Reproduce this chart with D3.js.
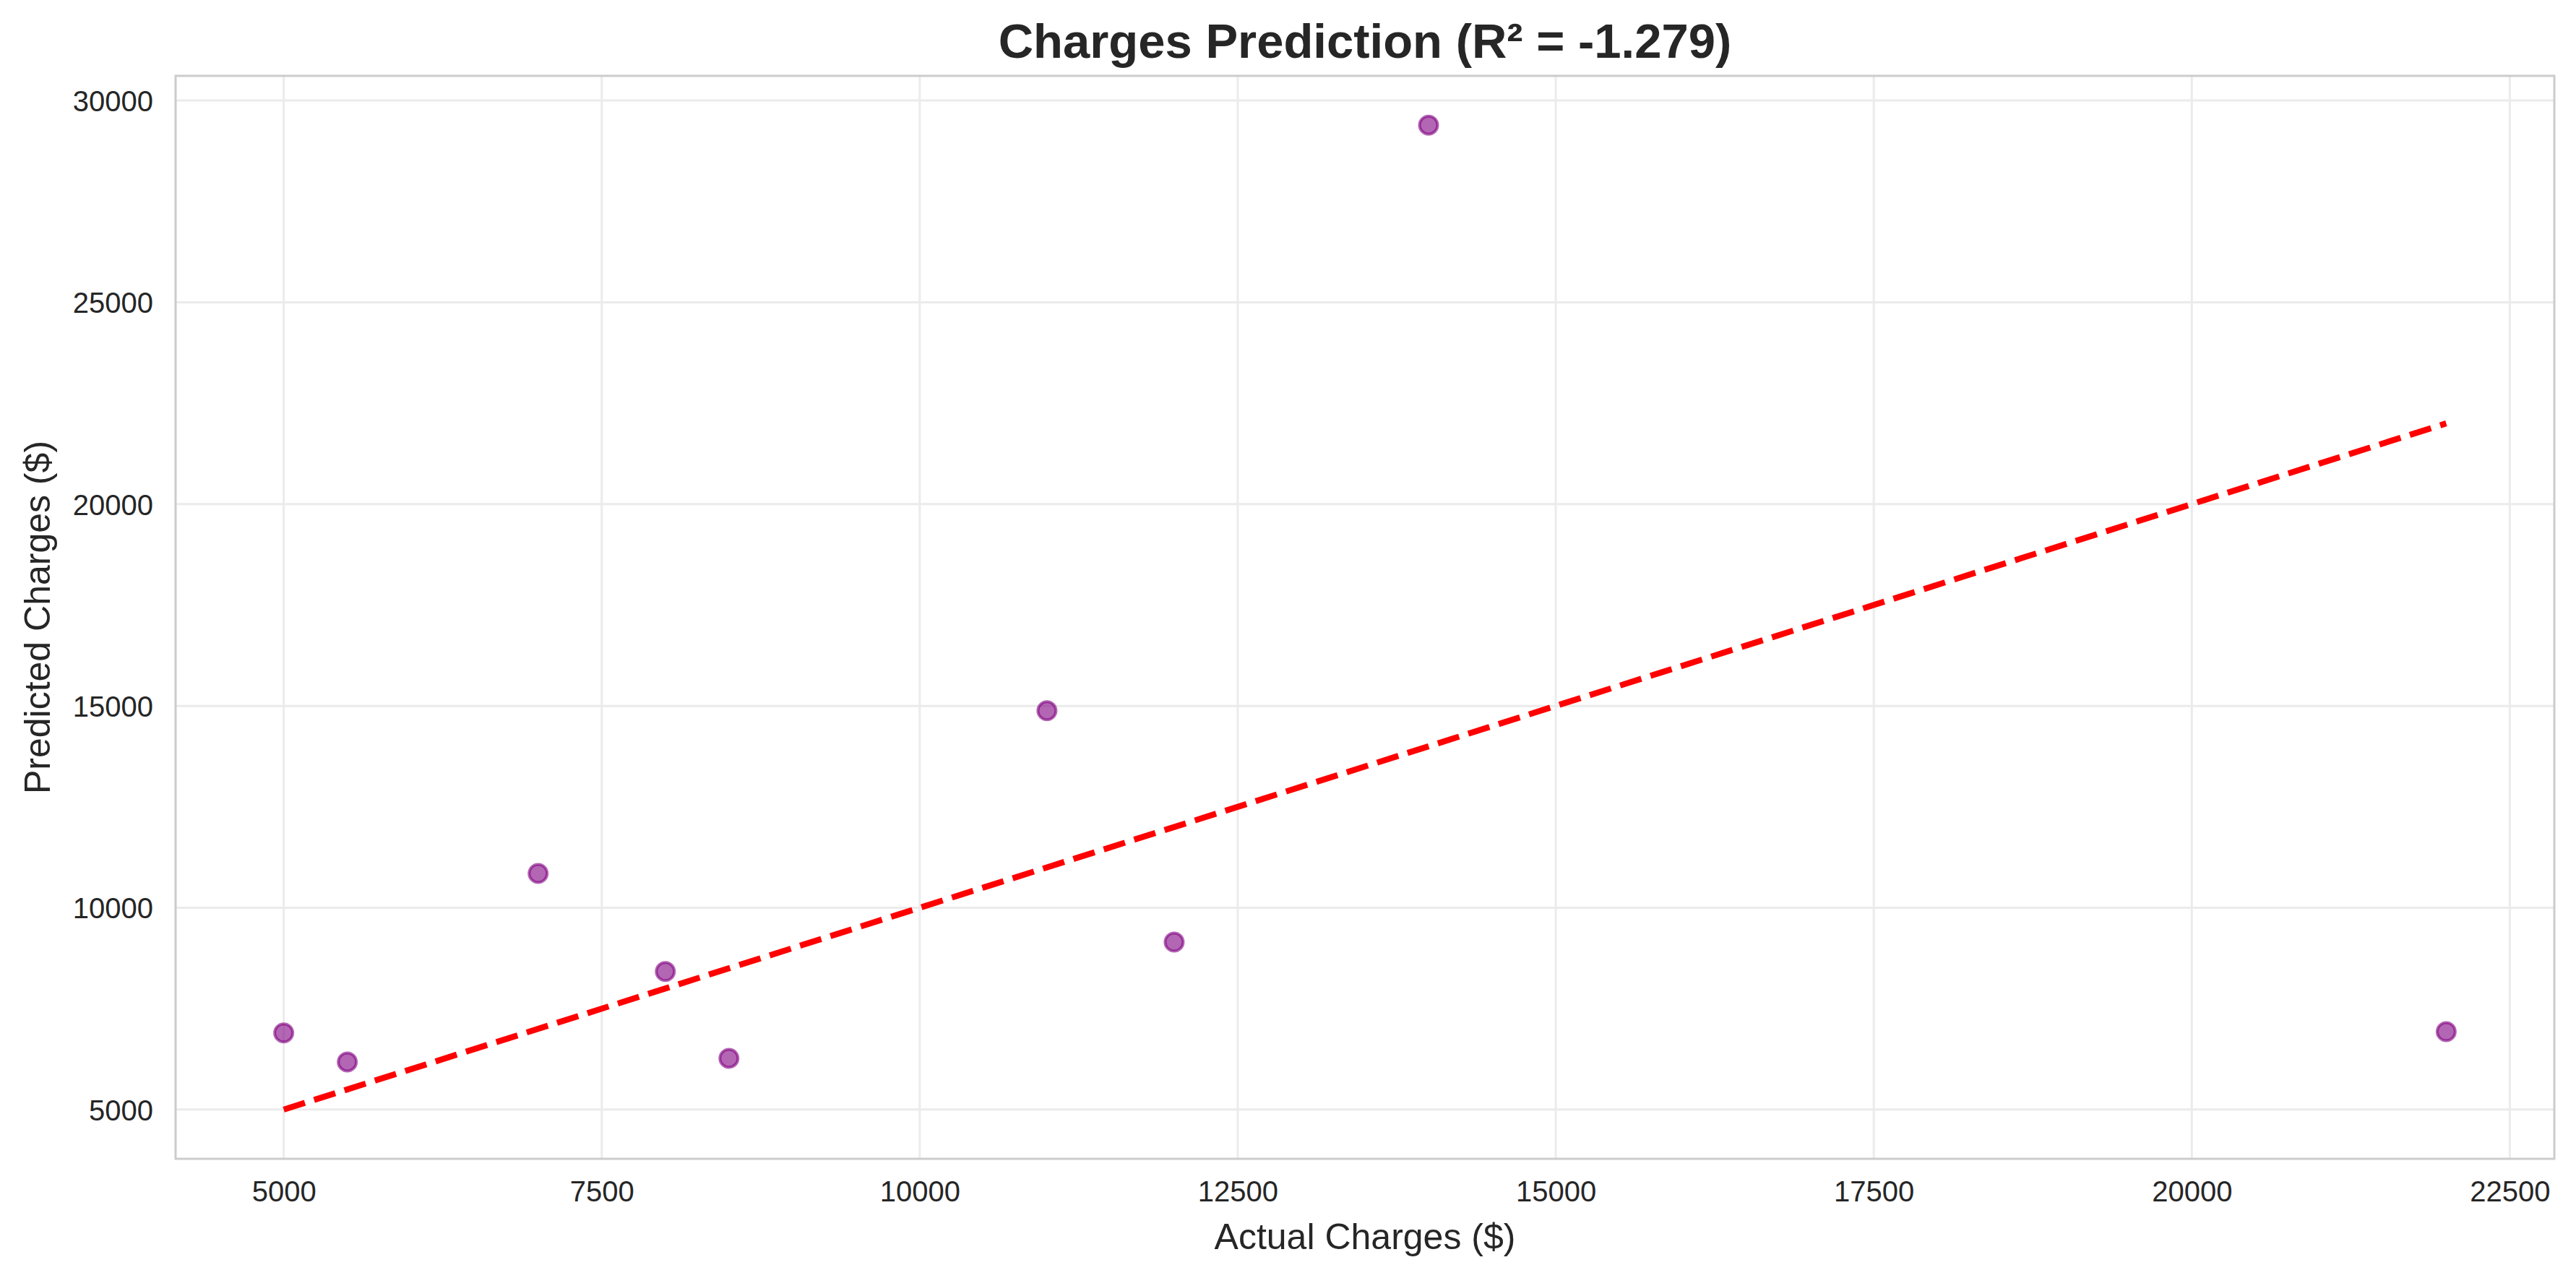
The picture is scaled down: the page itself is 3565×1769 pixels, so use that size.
<!DOCTYPE html>
<html>
<head>
<meta charset="utf-8">
<script src="https://cdn.jsdelivr.net/npm/d3@7"></script>
<style>
  body { margin: 0; background: #fff; }
  text { font-family: "Liberation Sans", Arial, sans-serif; fill: #262626; }
</style>
</head>
<body>
<svg id="chart" width="3565" height="1769"></svg>
<script>
// values
const actual    = [5000, 5500, 7000, 8000, 8500, 11000, 12000, 14000, 22000];
const predicted = [6900, 6180, 10850, 8420, 6270, 14880, 9150, 29390, 6930];
const xTicks = [5000, 7500, 10000, 12500, 15000, 17500, 20000, 22500];
const yTicks = [5000, 10000, 15000, 20000, 25000, 30000];
const title = "Charges Prediction (R\u00b2 = -1.279)";

const svg = d3.select("#chart");

// plot box in page pixels
const box = {left: 243, right: 3535, top: 105, bottom: 1604};

// matplotlib style 5% margin round the data
function padded(ext) {
  const m = (ext[1] - ext[0]) * 0.05;
  return [ext[0] - m, ext[1] + m];
}

const lineExt = d3.extent(actual);
const xExt = d3.extent(actual);
const yExt = d3.extent(predicted.concat(lineExt));

const x = d3.scaleLinear().domain(padded(xExt)).range([box.left, box.right]);
const y = d3.scaleLinear().domain(padded(yExt)).range([box.bottom, box.top]);

// grid
const grid = svg.append("g");
grid.selectAll("line.gx")
  .data(xTicks)
  .enter()
  .append("line")
  .attr("x1", d => x(d)).attr("x2", d => x(d))
  .attr("y1", box.top).attr("y2", box.bottom)
  .attr("stroke", "#ebebeb").attr("stroke-width", 3);
grid.selectAll("line.gy")
  .data(yTicks)
  .enter()
  .append("line")
  .attr("x1", box.left).attr("x2", box.right)
  .attr("y1", d => y(d)).attr("y2", d => y(d))
  .attr("stroke", "#ebebeb").attr("stroke-width", 3);

// axes: tick labels only, no tick marks
const xAxis = svg.append("g")
  .attr("transform", `translate(0,${box.bottom})`)
  .call(d3.axisBottom(x).tickValues(xTicks).tickFormat(d3.format("d")).tickSize(0));
xAxis.select(".domain").remove();
xAxis.selectAll("text")
  .attr("y", 0).attr("dy", null)
  .attr("transform", "translate(0,59)")
  .style("font-size", "40px").style("font-family", null).attr("fill", "#262626");

const yAxis = svg.append("g")
  .attr("transform", `translate(${box.left},0)`)
  .call(d3.axisLeft(y).tickValues(yTicks).tickFormat(d3.format("d")).tickSize(0));
yAxis.select(".domain").remove();
yAxis.selectAll("text")
  .attr("x", -31).attr("dy", "0.36em")
  .style("font-size", "40px").style("font-family", null).attr("fill", "#262626");

// clip to plot box
svg.append("clipPath").attr("id", "clip")
  .append("rect")
  .attr("x", box.left).attr("y", box.top)
  .attr("width", box.right - box.left).attr("height", box.bottom - box.top);

const plot = svg.append("g").attr("clip-path", "url(#clip)");

// scatter points
plot.selectAll("circle.pt")
  .data(actual.map((a, i) => ({a: a, p: predicted[i]})))
  .enter()
  .append("circle")
  .attr("class", "pt")
  .attr("cx", d => x(d.a))
  .attr("cy", d => y(d.p))
  .attr("r", 12.5)
  .attr("fill", "purple").attr("fill-opacity", 0.6)
  .attr("stroke", "purple").attr("stroke-opacity", 0.6)
  .attr("stroke-width", 4);

// perfect prediction line
plot.append("path")
  .datum(lineExt)
  .attr("d", d3.line().x(d => x(d)).y(d => y(d)))
  .attr("fill", "none")
  .attr("stroke", "red")
  .attr("stroke-width", 8.33)
  .attr("stroke-dasharray", "30.8,13.3");

// spines
svg.append("rect")
  .attr("x", box.left).attr("y", box.top)
  .attr("width", box.right - box.left).attr("height", box.bottom - box.top)
  .attr("fill", "none").attr("stroke", "#cccccc").attr("stroke-width", 3);

// labels
svg.append("text")
  .attr("x", (box.left + box.right) / 2).attr("y", 80)
  .attr("text-anchor", "middle")
  .style("font-size", "67px").style("font-weight", "bold")
  .text(title);

svg.append("text")
  .attr("x", (box.left + box.right) / 2).attr("y", 1729)
  .attr("text-anchor", "middle")
  .style("font-size", "50px")
  .text("Actual Charges ($)");

svg.append("text")
  .attr("transform", `translate(69,${(box.top + box.bottom) / 2}) rotate(-90)`)
  .attr("text-anchor", "middle")
  .style("font-size", "50px")
  .text("Predicted Charges ($)");
</script>
</body>
</html>
